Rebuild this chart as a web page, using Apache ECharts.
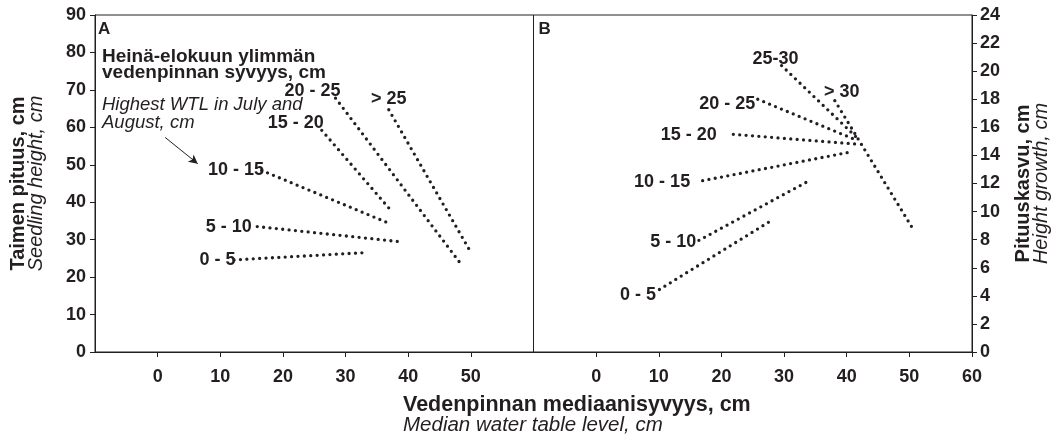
<!DOCTYPE html>
<html>
<head>
<meta charset="utf-8">
<script src="https://cdn.jsdelivr.net/npm/echarts@6/dist/echarts.min.js"></script>
<style>
html,body{margin:0;padding:0;background:#fff;}
#chart{width:1057px;height:440px;}
</style>
</head>
<body>
<div id="chart"></div>
<script>
// ---- Data ----
// Panel A: seedling height (cm) vs median water table level (cm)
const groupsA = ['0 - 5', '5 - 10', '10 - 15', '15 - 20', '20 - 25', '> 25'];
const startA = [[12.2, 24.6], [15.9, 33.5], [16.6, 48.5], [26.2, 59.2], [28.4, 67.8], [36.9, 64.7]];
const endA   = [[32.7, 26.5], [39.0, 29.4], [36.6, 34.6], [37.5, 37.3], [48.5, 23.3], [49.7, 27.5]];
// Panel B: height growth (cm) vs median water table level (cm)
const groupsB = ['0 - 5', '5 - 10', '10 - 15', '15 - 20', '20 - 25', '25-30', '> 30'];
const startB = [[10.1, 4.45], [16.4, 7.95], [17.0, 12.2], [21.9, 15.5], [25.8, 18.0], [29.6, 20.4], [38.1, 17.9]];
const endB   = [[28.1, 9.4], [34.0, 12.2], [40.1, 14.2], [41.8, 14.8], [41.5, 15.1], [42.0, 15.1], [50.8, 8.6]];
// Tick labels
const xTicksA = [0, 10, 20, 30, 40, 50];
const xTicksB = [0, 10, 20, 30, 40, 50, 60];

// ---- Styling ----
const INK = '#231f20';
const FONT = '"Liberation Sans", Arial, Helvetica, sans-serif';
const labelCfgA = [
  {position: 'left', distance: -2, offset: [0, 0]},
  {position: 'left', distance: 5, offset: [0, 0]},
  {position: 'left', distance: -3, offset: [0, 0]},
  {position: 'top', distance: 0, offset: [-26, 2]},
  {position: 'top', distance: 0, offset: [-23, 2]},
  {position: 'top', distance: 3, offset: [0, 2]}
];
const labelCfgB = [
  {position: 'left', distance: 3, offset: [0, 6]},
  {position: 'left', distance: 2, offset: [0, 2]},
  {position: 'left', distance: 12, offset: [0, 1]},
  {position: 'left', distance: 16, offset: [0, 1]},
  {position: 'left', distance: 2, offset: [0, 5]},
  {position: 'top', distance: -3, offset: [-6, 0]},
  {position: 'top', distance: -1, offset: [7, 0]}
];
const dotStyle = {color: INK, width: 3.3, type: [0, 6.4], cap: 'round'};

function makeSeries(names, starts, ends, cfgs, idx) {
  return names.map((n, i) => ({
    name: n,
    type: 'line',
    xAxisIndex: idx,
    yAxisIndex: idx,
    showSymbol: true,
    symbol: 'circle',
    symbolSize: 1,
    itemStyle: {color: 'rgba(0,0,0,0)'},
    silent: true,
    lineStyle: dotStyle,
    label: {show: false},
    data: [
      {value: starts[i], label: {
        show: true, formatter: n, position: cfgs[i].position, distance: cfgs[i].distance,
        offset: cfgs[i].offset, color: INK, fontFamily: FONT, fontWeight: 'bold', fontSize: 18}},
      {value: ends[i]}
    ],
    z: 3
  }));
}

const seriesA = makeSeries(groupsA, startA, endA, labelCfgA, 0);
const seriesB = makeSeries(groupsB, startB, endB, labelCfgB, 1);
// explanatory arrow pointing to the "10 - 15" group in panel A
seriesA[2].markLine = {
  silent: true,
  symbol: ['none', 'arrow'],
  symbolSize: [7, 9],
  label: {show: false},
  lineStyle: {color: INK, width: 1, type: 'solid'},
  data: [[{coord: [1.2, 57.3]}, {coord: [6.4, 50.3]}]]
};

const L = 95, R = 972, T = 15, B = 352;
const W = (R - L) / 2;

function xAxisCfg(idx, ticks) {
  return {
    type: 'value', gridIndex: idx, min: -10, max: 60, interval: 10,
    axisLine: {show: true, onZero: false, lineStyle: {color: INK, width: 1}},
    axisTick: {show: true, length: 5, customValues: ticks, lineStyle: {color: INK}},
    axisLabel: {show: true, customValues: ticks, margin: 16, color: INK,
      fontFamily: FONT, fontWeight: 'bold', fontSize: 18},
    splitLine: {show: false}
  };
}

const richTitle = {
  b: {fontFamily: FONT, fontWeight: 'bold', fontSize: 20, color: INK, lineHeight: 18},
  i: {fontFamily: FONT, fontStyle: 'italic', fontSize: 20, color: INK, lineHeight: 18}
};

const option = {
  animation: false,
  backgroundColor: '#fff',
  grid: [
    {left: L, top: T, width: W, height: B - T, show: true, borderColor: INK, borderWidth: 1},
    {left: L + W, top: T, width: W, height: B - T, show: true, borderColor: INK, borderWidth: 1}
  ],
  xAxis: [xAxisCfg(0, xTicksA), xAxisCfg(1, xTicksB)],
  yAxis: [
    {
      type: 'value', gridIndex: 0, min: 0, max: 90, interval: 10, position: 'left',
      axisLine: {show: true, onZero: false, lineStyle: {color: INK, width: 1}},
      axisTick: {show: true, length: 5, lineStyle: {color: INK}},
      axisLabel: {margin: 9, color: INK, fontFamily: FONT, fontWeight: 'bold', fontSize: 18},
      splitLine: {show: false},
      name: '{b|Taimen pituus, cm}\n{i|Seedling height, cm}',
      nameLocation: 'middle', nameRotate: 90, nameGap: 50,
      nameTextStyle: {lineHeight: 18, rich: richTitle}
    },
    {
      type: 'value', gridIndex: 1, min: 0, max: 24, interval: 2, position: 'right',
      axisLine: {show: true, onZero: false, lineStyle: {color: INK, width: 1}},
      axisTick: {show: true, length: 5, lineStyle: {color: INK}},
      axisLabel: {margin: 8, color: INK, fontFamily: FONT, fontWeight: 'bold', fontSize: 18},
      splitLine: {show: false},
      name: '{b|Pituuskasvu, cm}\n{i|Height growth, cm}',
      nameLocation: 'middle', nameRotate: 90, nameGap: 42,
      nameTextStyle: {lineHeight: 18, rich: richTitle}
    }
  ],
  graphic: [
    {type: 'text', left: 98, top: 21, style: {text: 'A', font: 'bold 17px ' + FONT, fill: INK}},
    {type: 'text', left: L + W + 5, top: 21, style: {text: 'B', font: 'bold 17px ' + FONT, fill: INK}},
    {type: 'text', left: 102, top: 47, style: {text: 'Heinä-elokuun ylimmän\nvedenpinnan syvyys, cm',
      font: 'bold 19px ' + FONT, fill: INK, lineHeight: 16}},
    {type: 'text', left: 102, top: 95, style: {text: 'Highest WTL in July and\nAugust, cm',
      font: 'italic 18.5px ' + FONT, fill: INK, lineHeight: 18}},
    {type: 'text', left: 403, top: 394, style: {text: 'Vedenpinnan mediaanisyvyys, cm',
      font: 'bold 21.5px ' + FONT, fill: INK}},
    {type: 'text', left: 403, top: 415, style: {text: 'Median water table level, cm',
      font: 'italic 20.5px ' + FONT, fill: INK}}
  ],
  series: seriesA.concat(seriesB)
};

const chart = echarts.init(document.getElementById('chart'), null, {renderer: 'canvas'});
chart.setOption(option);
</script>
</body>
</html>
